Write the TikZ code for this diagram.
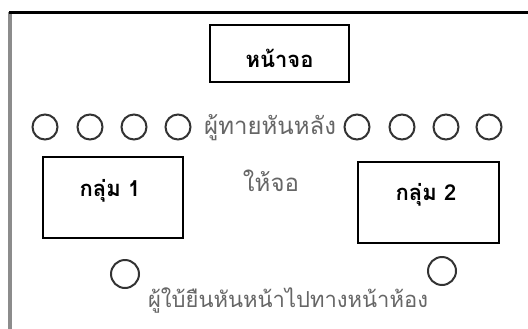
\documentclass[tikz,border=0pt]{standalone}
\usepackage{fontspec}
\newfontfamily\thaifont[Script=Thai]{Loma}
\tikzset{
  boxnode/.style={draw, line width=0.6mm, inner sep=0pt},
  boxlabel/.style={font=\thaifont\bfseries\fontsize{22}{24}\selectfont, inner sep=0pt},
  seat/.style={draw, circle, line width=0.7mm, color=black!80, inner sep=0pt},
  note/.style={font=\thaifont\fontsize{24}{26}\selectfont, color=black!60, inner sep=0pt}
}
\begin{document}
\begin{tikzpicture}[x=1pt, y=-1pt]
			%%%%% START %%%%%
			\useasboundingbox (0, 0) rectangle (528, 329);
			
			% frame
			\draw[line width=1.6mm, color=black!45] (10, 12) -- (10, 329);
			\draw[line width=0.8mm, color=black] (9, 12.5) -- (528, 12.5);
			
			% screen
			\node[boxnode, minimum width=139pt, minimum height=57pt] (screen) at (279.5, 53.5) {};
			\node[boxlabel] (screenlabel) at (279.5, 58) {หน้าจอ};
			
			% groups
			\node[boxnode, minimum width=140pt, minimum height=81pt] (groupA) at (113, 197.5) {};
			\node[boxlabel] (groupAlabel) at (110, 191) {กลุ่ม 1};
			\node[boxnode, minimum width=141pt, minimum height=81pt] (groupB) at (428.5, 202.5) {};
			\node[boxlabel] (groupBlabel) at (426, 195) {กลุ่ม 2};
			
			% guessers
			\foreach \x [count=\i] in {45, 90, 134, 178} {
				\node[seat, minimum size=25pt] (guessL\i) at (\x, 127) {};
			}
			\foreach \x [count=\i] in {357, 402, 446, 489} {
				\node[seat, minimum size=25pt] (guessR\i) at (\x, 127) {};
			}
			\node[note, anchor=west] (guesstext) at (204, 128) {ผู้ทายหันหลัง};
			\node[note] (guesstext2) at (271, 181) {ให้จอ};
			
			% actors
			\node[seat, minimum size=28pt] (actorA) at (125, 274) {};
			\node[seat, minimum size=28pt] (actorB) at (442, 271) {};
			\node[note, font=\thaifont\fontsize{22}{24}\selectfont] (actortext) at (288, 300) {ผู้ใบ้ยืนหันหน้าไปทางหน้าห้อง};
			
			%%%%% END %%%%%
		\end{tikzpicture}
\end{document}
